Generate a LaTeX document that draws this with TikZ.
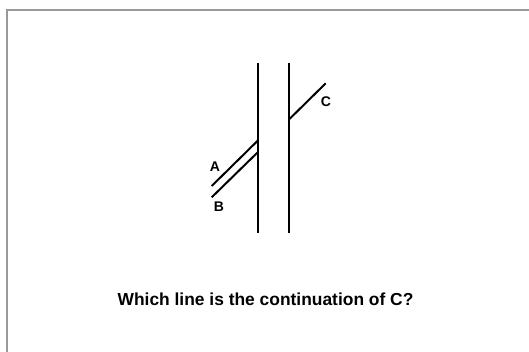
\documentclass[tikz,border=0pt]{standalone}
\usepackage{fontspec}
\setmainfont{Liberation Sans}
\begin{document}
\begin{tikzpicture}[x=1pt,y=-1pt,
  ln/.style={line width=2pt,black},
  lbl/.style={font=\bfseries\fontsize{14}{16}\selectfont,inner sep=0pt},
  frame/.style={draw=black!40,line width=1.5pt}]
\useasboundingbox (0,0) rectangle (529,351);
\draw[frame] (7,360) -- (7,10) -- (540,10);
% vertical bars
\coordinate (l1) at (258.3,63);
\coordinate (l2) at (258.3,233);
\coordinate (r1) at (289,63);
\coordinate (r2) at (289,233);
\draw[ln] (l1) -- (l2);
\draw[ln] (r1) -- (r2);
% oblique lines
\coordinate (c1) at (289.5,119);
\coordinate (c2) at (325.7,83.3);
\coordinate (a1) at (211.7,186);
\coordinate (a2) at (257.7,140.7);
\coordinate (b1) at (211.7,197.3);
\coordinate (b2) at (257.7,152.3);
\draw[ln] (c1) -- (c2);
\draw[ln] (a1) -- (a2);
\draw[ln] (b1) -- (b2);
\node[lbl] (C) at (326,101.7) {C};
\node[lbl] (A) at (215,167) {A};
\node[lbl] (B) at (219,207) {B};
\node[font=\bfseries\fontsize{17.4}{20}\selectfont,inner sep=0pt,anchor=base] (q) at (265.5,305) {Which line is the continuation of C?};
\end{tikzpicture}
\end{document}
